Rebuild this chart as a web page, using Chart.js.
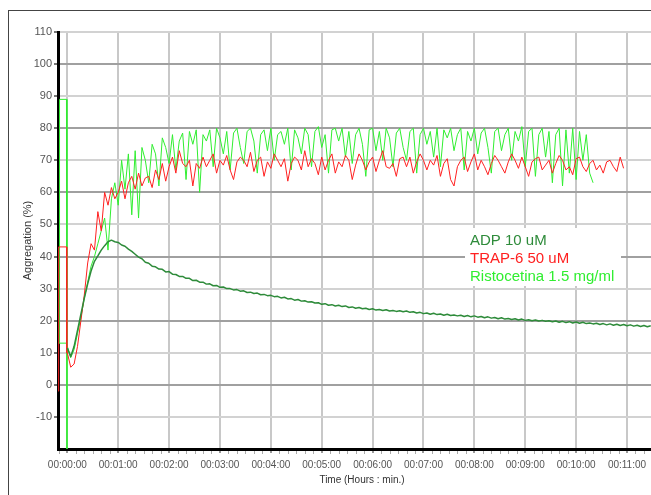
<!DOCTYPE html>
<html><head><meta charset="utf-8">
<script src="https://cdn.jsdelivr.net/npm/chart.js@4"></script>
<style>
html,body{margin:0;padding:0;background:#fff;overflow:hidden;width:651px;height:495px;}
#frame{position:absolute;left:8px;top:10px;width:700px;height:600px;border:1px solid #444;box-sizing:border-box;}
#wrap{position:absolute;left:0;top:0;width:676px;height:495px;}
</style></head><body>
<div id="frame"></div>
<div id="wrap"><canvas id="c" width="676" height="495"></canvas></div>
<script>
// ---- data (time in seconds) ----
const seriesLabels = ['ADP 10 uM', 'TRAP-6 50 uM', 'Ristocetina 1.5 mg/ml'];
const xTickSeconds = [0,60,120,180,240,300,360,420,480,540,600,660];
const xTickLabels = ['00:00:00','00:01:00','00:02:00','00:03:00','00:04:00','00:05:00','00:06:00','00:07:00','00:08:00','00:09:00','00:10:00','00:11:00'];
const yTickValues = [-10,0,10,20,30,40,50,60,70,80,90,100,110];

const timeSec = [
0,4,8,12,16,20,24,28,32,36,40,44,48,52,56,60,64,68,72,76,
80,84,88,92,96,100,104,108,112,116,120,124,128,132,136,140,144,148,152,156,
160,164,168,172,176,180,184,188,192,196,200,204,208,212,216,220,224,228,232,236,
240,244,248,252,256,260,264,268,272,276,280,284,288,292,296,300,304,308,312,316,
320,324,328,332,336,340,344,348,352,356,360,364,368,372,376,380,384,388,392,396,
400,404,408,412,416,420,424,428,432,436,440,444,448,452,456,460,464,468,472,476,
480,484,488,492,496,500,504,508,512,516,520,524,528,532,536,540,544,548,552,556,
560,564,568,572,576,580,584,588,592,596,600,604,608,612,616,620,624,628,632,636,
640,644,648,652,656,660,664,668,672,676,680,684,688];

const adpValues = [
11.5,8.8,12,17,22,27,31.5,35.5,38.5,40.2,42,43.4,44.6,45.1,44.6,44.4,43.6,43.2,42.3,41.6,
40.7,39.8,39.3,38.2,37.9,37,36.8,36.1,36,35.2,35.3,34.5,34.4,33.8,33.8,33.2,33.2,32.5,32.6,32,
32,31.4,31.5,30.9,31,30.4,30.5,30,30,29.6,29.7,29.2,29.3,28.8,28.9,28.5,28.6,28.1,28.2,27.8,
27.9,27.5,27.6,27.1,27.3,26.8,26.9,26.4,26.6,26.1,26.2,25.8,25.9,25.5,25.6,25.1,25.3,24.8,25,24.6,
24.8,24.4,24.6,24.1,24.3,23.9,24.1,23.7,23.9,23.5,23.7,23.3,23.5,23.2,23.4,23,23.2,22.9,23.1,22.8,
23,22.6,22.8,22.4,22.6,22.2,22.4,22,22.3,21.9,22.1,21.7,22,21.6,21.8,21.5,21.7,21.3,21.6,21.2,
21.5,21.1,21.3,20.9,21.2,20.8,21,20.6,20.9,20.5,20.7,20.4,20.6,20.2,20.5,20.1,20.3,20,20.2,19.9,
20.1,19.8,20,19.7,19.9,19.5,19.8,19.4,19.7,19.3,19.6,19.2,19.5,19.1,19.3,19,19.2,18.8,19.1,18.7,
19,18.6,18.9,18.5,18.8,18.4,18.7,18.3,18.6,18.2,18.5,18.1,18.4];

const trapPreTime = [-10.6,-10.2,-0.9,-0.6];
const trapPreValues = [-2,43,43,10];
const trapValues = [
10,5.5,6.5,12,20,28,38,44,42,54,48,60,56,61.5,58,60,63.5,58,63,65,
61,66,62,64.5,65,61.5,67,64,69,63.5,68,71,66,73,69,68,70,62,69,67.5,
71,68,70,72,66,70,68.5,71.5,67,64,69.5,71,70,68,72.5,66.5,70,71,65,69.5,
67.5,72,70,68,70.5,63.5,69,71,70,67,73,68,70.5,69,65.5,71,67,70,72,66,
69.5,68,71.5,70,64,68.5,72,70,67,69.5,71,66.5,70,73,68,67.5,69,65,70.5,71,
68,71,66,69.5,72,70,67,70,68.5,71.5,65,69,70.5,64,62,68,70,71,66.5,69.5,
72,67,70,68,65.5,69,71.5,70,68,66,69.5,72,70,67.5,71,68,65,69.5,70.5,71,
67,68.5,70,66,69,71.5,70,67,68,65.5,70.5,71,68,66.5,69,70,67,68.5,66,69.5,
70,68,66.5,71,67.5];

const ristoPreTime = [-9.4,-9.2,-1.0,-0.4,-0.4,-10.6,-1.0];
const ristoPreValues = [13,89,89,-25,null,13,13];
const ristoValues = [
12,8.5,11,16,21,27,32,37,40,44,48,52,42,58,63,56,70,61,72,53,
73,52,74,70,63,75,72,62,77,74,69,78,67,76,78.5,64,79,75,79.5,60,
78,76,79.5,68,80,77,72,79,67,78.5,80,74,69,79,80,76,66,78,79.5,73,
80,70,78,79,75,80,67,79.5,77,72,80,78,68,79,80.5,74,78,66,79.5,80,
76,80,71,79,69,78,80,75,65,79.5,80,73,79,70,80,77,68,78.5,80,74,
70,79,80,66,78,80,75,79,71,80,68,79.5,77,80,73,78,80,67,79,76,
80,72,78.5,80,74,66,79,80,73,78,80,70,79,76,80.5,68,79,80,65,78,
80,71,79,63,78,80,62,79.5,66,80,64,79,70,78,66,63];

// ---- build points ----
function pts(preT, preV, vals){
  const out = [];
  preT.forEach((t,i)=>out.push({x:t, y:preV[i]}));
  vals.forEach((v,i)=>out.push({x:timeSec[i], y:v}));
  return out;
}
const FONT = '"Liberation Sans", Arial, sans-serif';
const colors = ['#2e8b3a', '#ff2020', '#30ee30'];

const legendPlugin = {
  id:'boxLegend',
  beforeDatasetsDraw(chart){
    const ctx = chart.ctx;
    ctx.save();
    ctx.fillStyle = '#fff';
    ctx.fillRect(465, 228, 156, 58);
    ctx.font = '15px ' + FONT;
    ctx.textBaseline = 'middle';
    chart.data.datasets.forEach((d,i)=>{
      ctx.fillStyle = d.borderColor;
      ctx.fillText(d.label, 470, 241 + i*18);
    });
    ctx.restore();
  }
};
const minorTicks = {
  id:'minorTicks',
  afterDraw(chart){
    const s = chart.scales.x, ctx = chart.ctx;
    ctx.save();
    ctx.strokeStyle = '#aaa'; ctx.lineWidth = 1;
    for (let v = s.min - (s.min % 10); v <= s.max; v += 10) {
      if (v % 60 === 0) continue;
      const px = Math.round(s.getPixelForValue(v)) + 0.5;
      ctx.beginPath(); ctx.moveTo(px, s.top + 2); ctx.lineTo(px, s.top + 5); ctx.stroke();
    }
    ctx.restore();
  }
};

new Chart(document.getElementById('c'), {
  type: 'line',
  data: {
    datasets: [
      {label: seriesLabels[0], data: pts([], [], adpValues), borderColor: colors[0], borderWidth: 1.5},
      {label: seriesLabels[1], data: pts(trapPreTime, trapPreValues, trapValues), borderColor: colors[1], borderWidth: 1},
      {label: seriesLabels[2], data: pts(ristoPreTime, ristoPreValues, ristoValues), borderColor: colors[2], borderWidth: 1}
    ]
  },
  options: {
    responsive: false,
    animation: false,
    devicePixelRatio: 1,
    elements: {
      point: {radius: 0},
      line: {tension: 0, borderJoinStyle: 'round', fill: false}
    },
    spanGaps: false,
    layout: {padding: {left: 8, top: 32, right: 10, bottom: 0}},
    plugins: {legend: {display: false}, tooltip: {enabled: false}},
    scales: {
      x: {
        type: 'linear', position: 'bottom', min: -11, max: 706,
        afterBuildTicks: s => { s.ticks = xTickSeconds.map(v => ({value: v})); },
        afterFit: s => { s.height = 46; },
        ticks: {
          autoSkip: false, maxRotation: 0, padding: 6, color: '#555',
          font: {family: FONT, size: 10},
          callback: (v, i) => xTickLabels[i]
        },
        grid: {color: '#c8c8c8', lineWidth: 2, tickLength: 4, tickColor: '#999'},
        border: {display: true, color: '#000', width: 3},
        title: {display: true, text: 'Time (Hours : min.)', color: '#333', font: {family: FONT, size: 10}, padding: {top: 0, bottom: 9}}
      },
      y: {
        type: 'linear', min: -20, max: 110,
        afterBuildTicks: s => { s.ticks = yTickValues.map(v => ({value: v})); },
        afterFit: s => { s.width = 50; },
        ticks: {color: '#555', padding: 2, font: {family: FONT, size: 11}},
        grid: {
          color: c => (c.tick && c.tick.value % 20 === 0) ? '#a0a0a0' : '#d2d2d2',
          lineWidth: 2, tickLength: 4, tickColor: '#777'
        },
        border: {display: true, color: '#000', width: 3},
        title: {display: true, text: 'Aggregation (%)', color: '#333', font: {family: FONT, size: 11}, padding: {top: 13, bottom: 0}}
      }
    }
  },
  plugins: [legendPlugin, minorTicks]
});
</script>
</body></html>
